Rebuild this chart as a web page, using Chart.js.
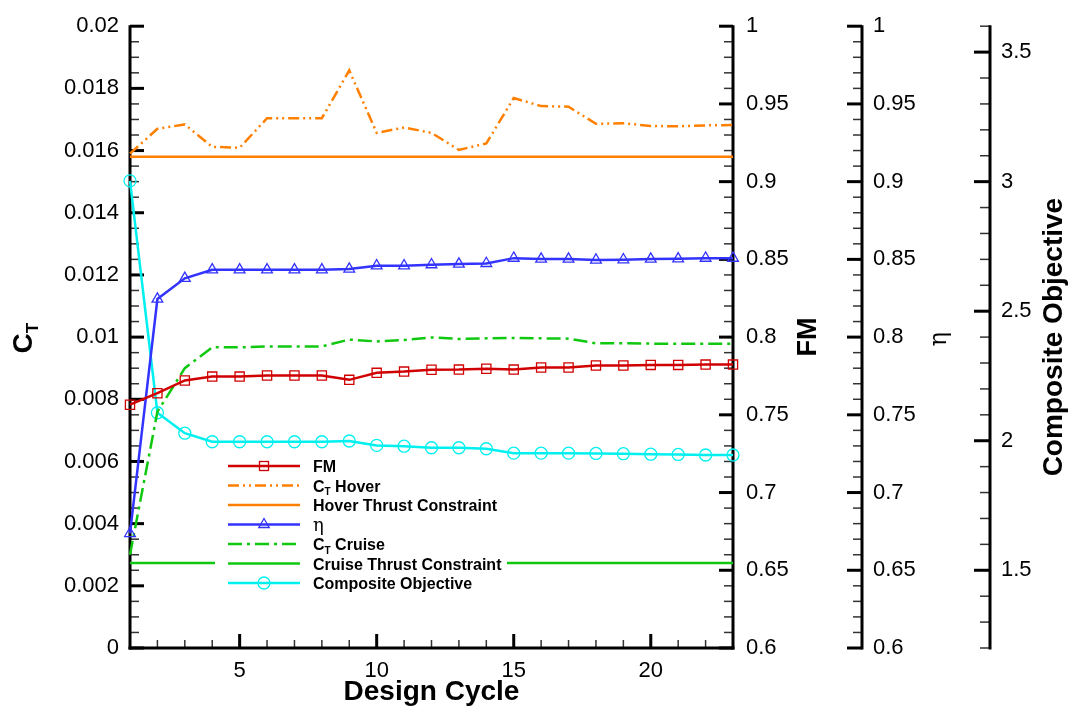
<!DOCTYPE html>
<html>
<head>
<meta charset="utf-8">
<script src="https://cdn.jsdelivr.net/npm/chart.js@4.4.1/dist/chart.umd.min.js"></script>
<style>
  html, body { margin: 0; padding: 0; background: #fff; }
  #wrap { width: 1077px; height: 719px; position: relative; }
</style>
</head>
<body>
<div id="wrap"><canvas id="chart"></canvas></div>
<script>
// design cycles (x) and the series
const cycles = [1, 2, 3, 4, 5, 6, 7, 8, 9, 10, 11, 12, 13, 14, 15, 16, 17, 18, 19, 20, 21, 22, 23];
const fm = [0.7565, 0.7639, 0.7721, 0.7746, 0.7746, 0.7753, 0.7753, 0.7753, 0.7725, 0.777, 0.7778, 0.779,
  0.7791, 0.7796, 0.7791, 0.7804, 0.7804, 0.7817, 0.7817, 0.7821, 0.7821, 0.7823, 0.7823];
const ctHover = [0.0159, 0.0167, 0.01684, 0.01612, 0.01609, 0.01704, 0.01704, 0.01704, 0.01858, 0.01657, 0.01674, 0.01657,
  0.01602, 0.01623, 0.01769, 0.01743, 0.01741, 0.01686, 0.01688, 0.01679, 0.01678, 0.01681, 0.01682];
const hoverThrustConstraint = 0.0158;
const eta = [0.6737, 0.8245, 0.8378, 0.8433, 0.8433, 0.8433, 0.8433, 0.8433, 0.8438, 0.8459, 0.8459, 0.8466,
  0.847, 0.8474, 0.8508, 0.8502, 0.8502, 0.8496, 0.8498, 0.8502, 0.8504, 0.8508, 0.8508];
const ctCruise = [0.0030, 0.0076, 0.0090, 0.00967, 0.00967, 0.0097, 0.0097, 0.0097, 0.00992, 0.00986, 0.00991, 0.00999,
  0.00994, 0.00996, 0.00997, 0.00996, 0.00995, 0.0098, 0.0098, 0.00979, 0.00979, 0.00979, 0.00979];
const cruiseThrustConstraint = 0.00273;
const composite = [3.003, 2.108, 2.029, 1.996, 1.996, 1.996, 1.996, 1.996, 1.999, 1.982, 1.979, 1.973,
  1.973, 1.969, 1.952, 1.952, 1.952, 1.951, 1.95, 1.948, 1.947, 1.945, 1.945];

// tick labels
const xTicks = [5, 10, 15, 20];
const ctTicks = [0, 0.002, 0.004, 0.006, 0.008, 0.01, 0.012, 0.014, 0.016, 0.018, 0.02];
const fmTicks = [0.6, 0.65, 0.7, 0.75, 0.8, 0.85, 0.9, 0.95, 1];
const etaTicks = [0.6, 0.65, 0.7, 0.75, 0.8, 0.85, 0.9, 0.95, 1];
const compositeTicks = [1.5, 2, 2.5, 3, 3.5];

const FONT = "'Liberation Sans', Arial, Helvetica, sans-serif";
const RED = '#d00000', ORANGE = '#ff8000', BLUE = '#3333ff', GREEN = '#10c810', CYAN = '#00f0f0';
const TICK_FONT = { family: FONT, size: 22 };

const pts = arr => cycles.map((c, i) => ({ x: c, y: arr[i] }));
const flat = v => cycles.map(c => ({ x: c, y: v }));
const fmt = v => String(parseFloat(v.toFixed(4)));
const setTicks = list => s => { s.ticks = list.map(v => ({ value: v })); };

function vScale(pos, min, max, list, width, pad, weight) {
  return {
    type: 'linear', position: pos, min, max, weight,
    afterBuildTicks: setTicks(list),
    afterFit: s => { s.width = width; },
    grid: { display: false, drawTicks: false },
    border: { display: false },
    ticks: { font: TICK_FONT, color: '#000', padding: pad, callback: v => fmt(v) }
  };
}

// Tecplot style axes: ticks pointing inward / to the left
function minors(min, max, step) {
  const out = [];
  for (let i = 0; min + i * step <= max + 1e-9; i++) out.push(+(min + i * step).toFixed(6));
  return out;
}
function vTicks(ctx, scale, ax, dir, majors, minorStep, majLen, minLen) {
  minors(scale.min, scale.max, minorStep).forEach(v => {
    const isMajor = majors.some(m => Math.abs(m - v) < 1e-7);
    const y = scale.getPixelForValue(v);
    ctx.lineWidth = isMajor ? 3 : 1.5;
    ctx.strokeStyle = isMajor ? '#000' : '#333';
    ctx.beginPath(); ctx.moveTo(ax, y); ctx.lineTo(ax + dir * (isMajor ? majLen : minLen), y); ctx.stroke();
  });
}
function vLine(ctx, x, top, bottom) {
  ctx.lineWidth = 3; ctx.strokeStyle = '#000';
  ctx.beginPath(); ctx.moveTo(x, top - 1); ctx.lineTo(x, bottom + 1.5); ctx.stroke();
}

const axesPlugin = {
  id: 'tecplotAxes',
  beforeDatasetsDraw(chart) {
    const ctx = chart.ctx;
    const { x, yCT, yFM, yEta, yComp } = chart.scales;
    const a = chart.chartArea;
    ctx.save();
    ctx.lineCap = 'butt';
    // x axis
    minors(1, 23, 1).forEach(v => {
      const isMajor = xTicks.includes(v);
      const px = x.getPixelForValue(v);
      ctx.lineWidth = isMajor ? 3 : 1.5;
      ctx.strokeStyle = isMajor ? '#000' : '#333';
      ctx.beginPath(); ctx.moveTo(px, a.bottom); ctx.lineTo(px, a.bottom - (isMajor ? 14 : 8)); ctx.stroke();
    });
    ctx.lineWidth = 3; ctx.strokeStyle = '#000';
    ctx.beginPath(); ctx.moveTo(a.left - 1.5, a.bottom); ctx.lineTo(a.right + 1.5, a.bottom); ctx.stroke();
    // left C_T axis
    vTicks(ctx, yCT, a.left, 1, ctTicks, 0.0005, 14, 9);
    vLine(ctx, a.left, a.top, a.bottom);
    // FM axis on the plot's right edge
    vTicks(ctx, yFM, a.right, -1, fmTicks, 0.01, 14, 9);
    vLine(ctx, a.right, a.top, a.bottom);
    // eta axis
    vTicks(ctx, yEta, yEta.left, -1, etaTicks, 0.01, 15, 9);
    vLine(ctx, yEta.left, a.top, a.bottom);
    // composite axis
    vTicks(ctx, yComp, yComp.left, -1, compositeTicks, 0.1, 16, 10);
    vLine(ctx, yComp.left, a.top, a.bottom);
    ctx.restore();
  }
};

// text made of pieces, some as subscripts
function drawRich(ctx, parts, x, y, size, weight, align) {
  const fontOf = p => `${p.weight || weight} ${p.sub ? Math.round(size * 0.62) : (p.size || size)}px ${p.family || FONT}`;
  const widths = parts.map(p => { ctx.font = fontOf(p); return ctx.measureText(p.t).width; });
  const total = widths.reduce((s, w) => s + w, 0);
  let cx = align === 'center' ? x - total / 2 : x;
  ctx.textAlign = 'left';
  ctx.textBaseline = 'alphabetic';
  parts.forEach((p, i) => {
    ctx.font = fontOf(p);
    ctx.fillText(p.t, cx, y + (p.sub ? size * 0.22 : 0));
    cx += widths[i];
  });
}
function rotated(ctx, cx, cy, fn) {
  ctx.save(); ctx.translate(cx, cy); ctx.rotate(-Math.PI / 2); fn(); ctx.restore();
}

const legendItems = [
  { parts: [{ t: 'FM' }], color: RED, dash: [], marker: 'square' },
  { parts: [{ t: 'C' }, { t: 'T', sub: true }, { t: ' Hover' }], color: ORANGE, dash: [11, 4, 2, 4, 2, 4] },
  { parts: [{ t: 'Hover Thrust Constraint' }], color: ORANGE, dash: [] },
  { parts: [{ t: 'η', weight: 'normal', size: 18, family: "'DejaVu Serif', serif" }], color: BLUE, dash: [], marker: 'triangle' },
  { parts: [{ t: 'C' }, { t: 'T', sub: true }, { t: ' Cruise' }], color: GREEN, dash: [14, 5, 3, 5] },
  { parts: [{ t: 'Cruise Thrust Constraint' }], color: GREEN, dash: [] },
  { parts: [{ t: 'Composite Objective' }], color: CYAN, dash: [], marker: 'circle' }
];

const titlePlugin = {
  id: 'tecplotText',
  afterDraw(chart) {
    const ctx = chart.ctx;
    const { yFM, yEta, yComp } = chart.scales;
    const a = chart.chartArea;
    const midY = (a.top + a.bottom) / 2;
    ctx.save();
    ctx.fillStyle = '#000';
    // axis titles
    rotated(ctx, 32, midY + 1, () => drawRich(ctx, [{ t: 'C' }, { t: 'T', sub: true }], 0, 0, 28, 'bold', 'center'));
    drawRich(ctx, [{ t: 'Design Cycle' }], (a.left + a.right) / 2, 700, 28, 'bold', 'center');
    rotated(ctx, yFM.left + 83, midY, () => drawRich(ctx, [{ t: 'FM' }], 0, 0, 27, 'bold', 'center'));
    rotated(ctx, yEta.left + 84, midY + 2, () =>
      drawRich(ctx, [{ t: 'η', family: "'DejaVu Serif', serif" }], 0, 0, 24, 'normal', 'center'));
    rotated(ctx, yComp.left + 72, midY, () => drawRich(ctx, [{ t: 'Composite Objective' }], 0, 0, 28, 'bold', 'center'));

    // legend inside the plot
    const lx = 215, ly = 456, rowH = 19.5;
    ctx.fillStyle = '#fff';
    ctx.fillRect(lx, ly, 292, legendItems.length * rowH + 2);
    legendItems.forEach((it, i) => {
      const y = ly + 10 + i * rowH;
      ctx.strokeStyle = it.color;
      ctx.lineWidth = 2.5;
      ctx.setLineDash(it.dash);
      ctx.beginPath(); ctx.moveTo(228, y); ctx.lineTo(300, y); ctx.stroke();
      ctx.setLineDash([]);
      ctx.lineWidth = 1.3;
      const mx = 264;
      if (it.marker === 'square') { ctx.strokeRect(mx - 4.5, y - 4.5, 9, 9); }
      if (it.marker === 'circle') { ctx.beginPath(); ctx.arc(mx, y, 6, 0, Math.PI * 2); ctx.stroke(); }
      if (it.marker === 'triangle') {
        ctx.beginPath(); ctx.moveTo(mx, y - 6); ctx.lineTo(mx + 5.2, y + 3); ctx.lineTo(mx - 5.2, y + 3); ctx.closePath(); ctx.stroke();
      }
      ctx.fillStyle = '#000';
      drawRich(ctx, it.parts, 313, y + 6, 16, 'bold', 'left');
    });
    ctx.restore();
  }
};

const lineDs = (label, data, axis, color, extra) => Object.assign({
  label, data, yAxisID: axis, borderColor: color, borderWidth: 2.5, tension: 0,
  pointRadius: 0, pointHoverRadius: 0, fill: false, clip: false
}, extra);

const markers = (style, r, color) => ({
  pointStyle: style, pointRadius: r, pointBorderWidth: 1.3,
  pointBackgroundColor: 'rgba(0,0,0,0)', pointBorderColor: color
});

new Chart(document.getElementById('chart'), {
  type: 'line',
  data: {
    datasets: [
      lineDs('FM', pts(fm), 'yFM', RED, markers('rect', 6.5, RED)),
      lineDs('CT Hover', pts(ctHover), 'yCT', ORANGE, { borderDash: [11, 4, 2, 4, 2, 4] }),
      lineDs('Hover Thrust Constraint', flat(hoverThrustConstraint), 'yCT', ORANGE),
      lineDs('η', pts(eta), 'yEta', BLUE, markers('triangle', 6.2, BLUE)),
      lineDs('CT Cruise', pts(ctCruise), 'yCT', GREEN, { borderDash: [14, 5, 3, 5] }),
      lineDs('Cruise Thrust Constraint', flat(cruiseThrustConstraint), 'yCT', GREEN),
      lineDs('Composite Objective', pts(composite), 'yComp', CYAN, markers('circle', 6, CYAN))
    ]
  },
  options: {
    responsive: true,
    maintainAspectRatio: false,
    devicePixelRatio: 1,
    animation: false,
    events: [],
    layout: { padding: { top: 25, left: 0, right: 0, bottom: 0 } },
    plugins: { legend: { display: false }, tooltip: { enabled: false } },
    scales: {
      x: {
        type: 'linear', position: 'bottom', min: 1, max: 23,
        afterBuildTicks: setTicks(xTicks),
        afterFit: s => { s.height = 71; },
        grid: { display: false, drawTicks: false },
        border: { display: false },
        ticks: { font: TICK_FONT, color: '#000', padding: 10, maxRotation: 0 }
      },
      yCT: vScale('left', 0, 0.02, ctTicks, 130, 11, 0),
      yFM: vScale('right', 0.6, 1, fmTicks, 129, 13, 1),
      yEta: vScale('right', 0.6, 1, etaTicks, 128, 11, 2),
      yComp: vScale('right', 1.2, 3.6, compositeTicks, 87, 11, 3)
    }
  },
  plugins: [axesPlugin, titlePlugin]
});
</script>
</body>
</html>
